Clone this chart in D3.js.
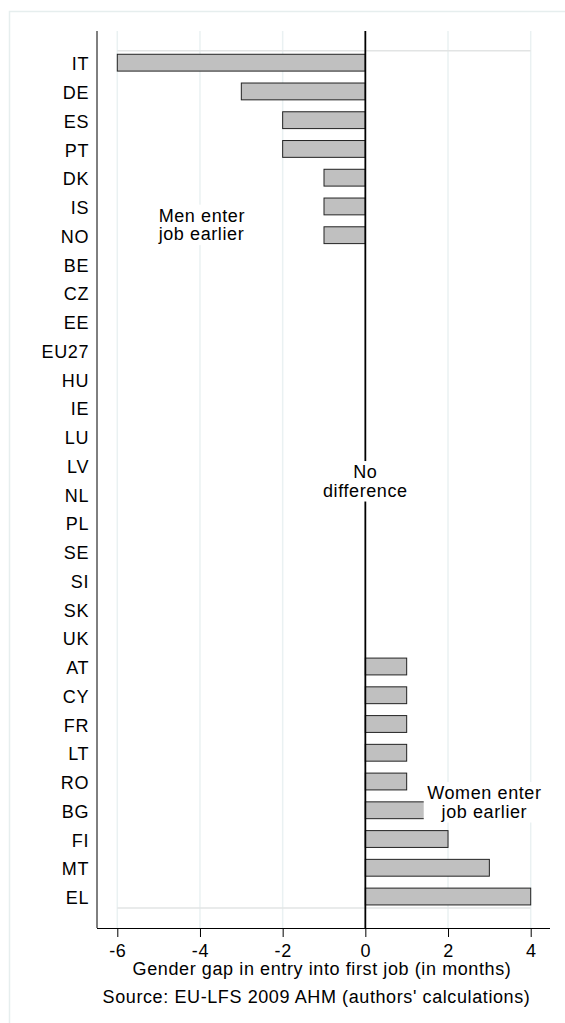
<!DOCTYPE html>
<html>
<head>
<meta charset="utf-8">
<script src="https://cdn.jsdelivr.net/npm/d3@7"></script>
<style>
  body { margin: 0; background: #fff; }
  text { font-family: "Liberation Sans", Arial, sans-serif; fill: #000; letter-spacing: 0.6px; }
</style>
</head>
<body>
<svg id="chart" width="565" height="1023"></svg>
<script>
// countries sorted by gap, ties alphabetical
var countries = ["IT", "DE", "ES", "PT", "DK", "IS", "NO", "BE", "CZ", "EE",
  "EU27", "HU", "IE", "LU", "LV", "NL", "PL", "SE", "SI", "SK",
  "UK", "AT", "CY", "FR", "LT", "RO", "BG", "FI", "MT", "EL"];
var gaps = [-6, -3, -2, -2, -1, -1, -1, 0, 0, 0,
  0, 0, 0, 0, 0, 0, 0, 0, 0, 0,
  0, 1, 1, 1, 1, 1, 2, 2, 3, 4];
var xTicks = [-6, -4, -2, 0, 2, 4];
var noteText = [["Men enter", "job earlier"], ["No", "difference"], ["Women enter", "job earlier"]];
var noteX = [-5, 0, 2.88];
var noteRow = ["IS", "LV", "RO"];
var xTitle = "Gender gap in entry into first job (in months)";
var source = "Source: EU-LFS 2009 AHM (authors' calculations)";

var svg = d3.select("#chart");

// outer graph frame (only top and left are inside the picture)
svg.append("rect")
  .attr("x", 9.5).attr("y", 11.5)
  .attr("width", 700).attr("height", 1200)
  .attr("fill", "none").attr("stroke", "#e6eeee").attr("stroke-width", 1.5);

var plotL = 97, plotR = 550, plotT = 31, plotB = 928;

var x = d3.scaleLinear().domain([-6, 4]).range([117.3, 530.7]);
var y = d3.scaleBand().domain(countries)
  .range([48.3, 910.9])
  .paddingInner(0.415).paddingOuter(0.2075);

// vertical grid
svg.append("g").selectAll("line")
  .data(xTicks.filter(function(d) { return d !== 0; }))
  .join("line")
  .attr("x1", function(d) { return x(d); }).attr("x2", function(d) { return x(d); })
  .attr("y1", plotT).attr("y2", plotB)
  .attr("stroke", "#eaf1f2").attr("stroke-width", 1.5);

// horizontal rules above first bar and below last bar
var yTopRule = y(countries[0]) - 3.6;
var yBotRule = y(countries[countries.length - 1]) + y.bandwidth() + 3;
svg.append("g").selectAll("line")
  .data([yTopRule, yBotRule])
  .join("line")
  .attr("x1", x(-6)).attr("x2", x(4))
  .attr("y1", function(d) { return d; }).attr("y2", function(d) { return d; })
  .attr("stroke", "#e2e4e4").attr("stroke-width", 1.5);

// bars
svg.append("g").selectAll("rect")
  .data(countries.map(function(c, i) { return { c: c, v: gaps[i] }; }).filter(function(d) { return d.v !== 0; }))
  .join("rect")
  .attr("x", function(d) { return x(Math.min(0, d.v)); })
  .attr("y", function(d) { return y(d.c); })
  .attr("width", function(d) { return Math.abs(x(d.v) - x(0)); })
  .attr("height", y.bandwidth())
  .attr("fill", "#c0c0c0").attr("stroke", "#222").attr("stroke-width", 1);

// zero line
svg.append("line")
  .attr("x1", x(0)).attr("x2", x(0)).attr("y1", plotT).attr("y2", plotB)
  .attr("stroke", "#000").attr("stroke-width", 1.8);

// y axis
svg.append("line")
  .attr("x1", plotL).attr("x2", plotL).attr("y1", plotT).attr("y2", plotB)
  .attr("stroke", "#000").attr("stroke-width", 1);
svg.append("g").selectAll("text")
  .data(countries)
  .join("text")
  .attr("x", 89)
  .attr("y", function(d) { return y(d) + y.bandwidth() / 2 + 7.7; })
  .attr("text-anchor", "end")
  .attr("font-size", 18)
  .text(function(d) { return d; });

// x axis
var xAxis = d3.axisBottom(x).tickValues(xTicks).tickSize(9).tickPadding(7)
  .tickFormat(function(d) { return d < 0 ? "-" + Math.abs(d) : d; });
var gx = svg.append("g").attr("transform", "translate(0," + plotB + ")").call(xAxis);
gx.select(".domain").attr("d", "M" + plotL + ",0.5H" + plotR).attr("stroke", "#000");
gx.selectAll(".tick line").attr("stroke", "#000");
gx.selectAll(".tick text")
  .attr("font-size", 18).attr("font-family", "Liberation Sans, Arial, sans-serif")
  .attr("fill", "#000").attr("dy", "0.72em");

svg.append("text")
  .attr("x", 322).attr("y", 975)
  .attr("text-anchor", "middle").attr("font-size", 18)
  .text(xTitle);
svg.append("text")
  .attr("x", 316.5).attr("y", 1003.3)
  .attr("text-anchor", "middle").attr("font-size", 18)
  .text(source);

// annotations with white boxes
var noteAnchor = ["start", "middle", "middle"];
var noteShift = [15.2, 12.8, 17.5];
noteText.forEach(function(lines, k) {
  var g = svg.append("g");
  var base = y(noteRow[k]) + y.bandwidth() / 2 + noteShift[k];
  var t = g.append("text")
    .attr("text-anchor", noteAnchor[k]).attr("font-size", 18);
  lines.forEach(function(s, i) {
    t.append("tspan")
      .attr("x", x(noteX[k]))
      .attr("y", base + i * 18.5)
      .text(s);
  });
  var b = t.node().getBBox();
  g.insert("rect", "text")
    .attr("x", b.x - 3.5).attr("y", b.y - 1)
    .attr("width", b.width + 7).attr("height", b.height + 2)
    .attr("fill", "#fff");
});
</script>
</body>
</html>
